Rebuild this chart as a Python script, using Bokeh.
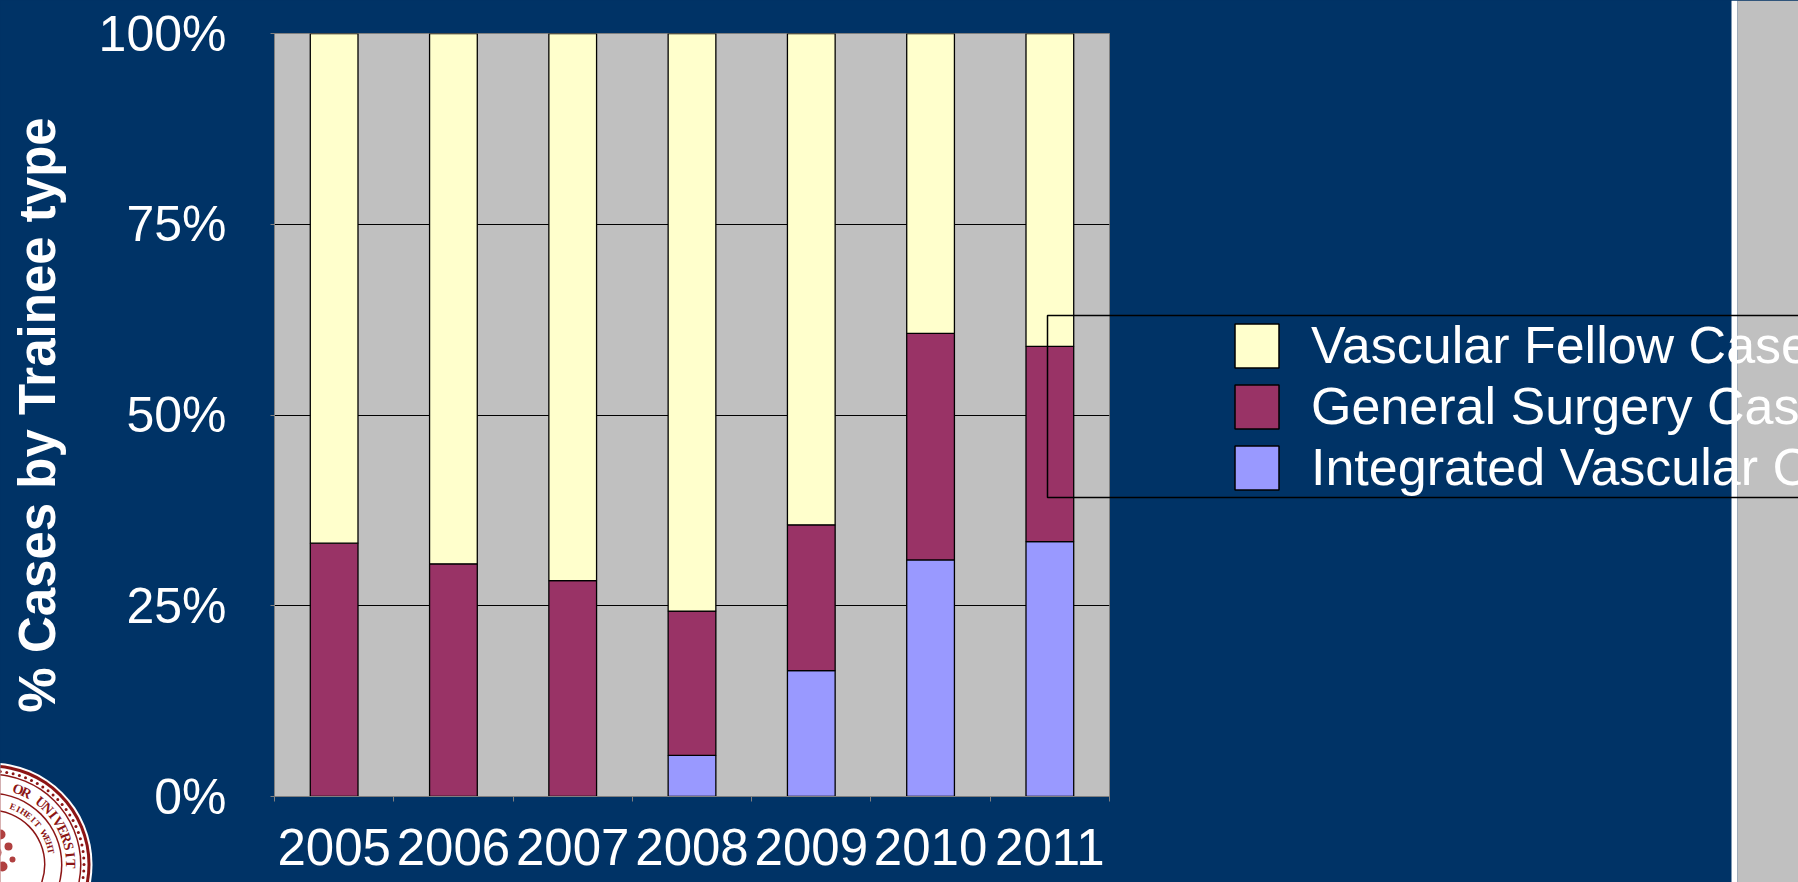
import math
from bokeh.plotting import figure
from bokeh.layouts import column
from bokeh.models import (ColumnDataSource, Range1d, FixedTicker, Legend, LegendItem,
                          GridBox, GlobalInlineStyleSheet)
from bokeh.core.properties import value
from bokeh.embed import file_html
from bokeh.resources import INLINE

# ---------------- data (percent of cases) ----------------
years = ["2005", "2006", "2007", "2008", "2009", "2010", "2011"]
integrated = [0.0, 0.0, 0.0, 5.4, 16.5, 31.0, 33.4]
general = [33.2, 30.5, 28.3, 18.9, 19.1, 29.7, 25.6]
fellow = [66.8, 69.5, 71.7, 75.7, 64.4, 39.3, 41.0]
series_keys = ["integrated", "general", "fellow"]
series_names = ["Integrated Vascular Cases", "General Surgery Cases", "Vascular Fellow Cases"]
series_colors = ["#9999FF", "#993366", "#FFFFCC"]
y_ticks = [0, 25, 50, 75, 100]
y_tick_labels = ["0%", "25%", "50%", "75%", "100%"]
y_title = "% Cases by Trainee type"

NAVY = "#003366"
GREY = "#C0C0C0"
AXIS_GREY = "#808080"
FONT = "Liberation Sans"
W, H = 1798, 882

# one slot per year: slot i spans [i, i+1] on the x scale
slot_centers = [i + 0.5 for i in range(len(years))]
slot_edges = list(range(len(years) + 1))

# ---------------- main chart ----------------
p = figure(x_range=Range1d(0, len(years)), y_range=Range1d(0, 100), width=W, height=H,
           output_backend="svg", toolbar_location=None,
           min_border_left=274, min_border_right=689, min_border_top=33, min_border_bottom=86)
p.background_fill_color = GREY
p.border_fill_color = NAVY
p.outline_line_color = AXIS_GREY
p.outline_line_width = 1

src = ColumnDataSource(dict(x=slot_centers, year=years, integrated=integrated, general=general, fellow=fellow))
rs = p.vbar_stack(series_keys, x="x", width=0.4, source=src,
                  fill_color=series_colors, line_color="black", line_width=1.3)

p.yaxis.ticker = FixedTicker(ticks=y_ticks)
p.yaxis.major_label_overrides = dict(zip(y_ticks, y_tick_labels))
p.yaxis.major_label_text_font = FONT
p.yaxis.major_label_text_font_size = "50px"
p.yaxis.major_label_text_color = "white"
p.yaxis.major_label_standoff = 44
p.yaxis.axis_line_color = AXIS_GREY
p.yaxis.major_tick_line_color = AXIS_GREY
p.yaxis.major_tick_out = 4
p.yaxis.major_tick_in = 0
p.yaxis.minor_tick_line_color = None
p.yaxis.axis_label = y_title
p.yaxis.axis_label_text_font = FONT
p.yaxis.axis_label_text_font_size = "51px"
p.yaxis.axis_label_text_font_style = "bold"
p.yaxis.axis_label_text_color = "white"
p.yaxis.axis_label_standoff = 30

p.ygrid.ticker = FixedTicker(ticks=y_ticks)
p.ygrid.grid_line_color = "black"
p.ygrid.grid_line_width = 1
p.xgrid.visible = False

xa = p.xaxis[0]
xa.ticker = FixedTicker(ticks=slot_centers, minor_ticks=slot_edges)
xa.major_label_overrides = {c: yv for c, yv in zip(slot_centers, years)}
xa.major_label_text_font = FONT
xa.major_label_text_font_size = "51px"
xa.major_label_text_color = "white"
xa.major_label_standoff = 27
xa.major_tick_line_color = None
xa.major_tick_out = 0
xa.major_tick_in = 0
xa.minor_tick_line_color = AXIS_GREY
xa.minor_tick_out = 5
xa.minor_tick_in = 0
xa.axis_line_color = AXIS_GREY

# ---------------- overlay in page pixels (legend, slide decorations) ----------------
q = figure(x_range=Range1d(0, W), y_range=Range1d(H, 0), width=W, height=H,
           output_backend="svg", toolbar_location=None,
           x_axis_location=None, y_axis_location=None,
           min_border_left=0, min_border_right=0, min_border_top=0, min_border_bottom=0)
q.background_fill_alpha = 0
q.border_fill_alpha = 0
q.outline_line_color = None
q.grid.visible = False

# right-hand slide panel
q.quad(left=[1731], right=[1737], top=[0], bottom=[H], fill_color="white", line_color=None)
q.quad(left=[1737], right=[W + 10], top=[0], bottom=[H], fill_color=GREY, line_color=None)

# legend frame
q.quad(left=[1047], right=[W + 20], top=[315], bottom=[497], fill_alpha=0,
       line_color="black", line_width=1.5)

# legend swatch renderers (same colours as the stacked series; no visible bar of their own)
nan = float("nan")
swatches = [q.vbar(x=[nan], top=[nan], width=0.0, fill_color=series_colors[i], line_color="black", line_width=1.5)
            for i in range(3)]
items = [LegendItem(label=series_names[i], renderers=[swatches[i]]) for i in (2, 1, 0)]
legend = Legend(items=items, location=(1229, 385), padding=0, margin=0, spacing=1,
                glyph_width=55, glyph_height=55, label_standoff=27,
                label_text_font=FONT, label_text_font_size="52px", label_text_color="white",
                border_line_alpha=0, background_fill_alpha=0)
q.add_layout(legend)

# seal in the lower-left corner
SEAL_RED = "#8C1515"
cx, cy = -10, 864
for r, c in [(102, "white"), (100, SEAL_RED), (97, "white")]:
    q.circle(x=[cx], y=[cy], radius=r, fill_color=c, line_color=None)
dot_ang = [math.radians(a) for a in range(-104, 30, 4)]
q.circle(x=[cx + 93.5 * math.cos(t) for t in dot_ang], y=[cy + 93.5 * math.sin(t) for t in dot_ang],
         radius=1.5, fill_color=SEAL_RED, line_color=None)
for r, c in [(91, SEAL_RED), (89.5, "white")]:
    q.circle(x=[cx], y=[cy], radius=r, fill_color=c, line_color=None)


def arc_text(text, r, start_deg, step_deg, size, pad):
    xs, ys, ts, angs = [], [], [], []
    for i, ch in enumerate(text):
        if ch == " ":
            continue
        a = start_deg + i * step_deg
        t = math.radians(a)
        x, y = cx + r * math.cos(t), cy + r * math.sin(t)
        if x < pad or y > H - pad:
            continue
        xs.append(x)
        ys.append(y)
        ts.append(ch)
        angs.append(-math.radians(a + 90))
    q.text(x=xs, y=ys, text=ts, angle=angs, text_align="center", text_baseline="middle",
           text_color=SEAL_RED, text_font=value("Liberation Serif"), text_font_style="bold",
           text_font_size=size)


arc_text("LELAND STANFORD JUNIOR UNIVERSITY", 80, -95 - 16 * 6.3, 6.3, "14px", 10)
for r, c in [(72, SEAL_RED), (70.5, "white")]:
    q.circle(x=[cx], y=[cy], radius=r, fill_color=c, line_color=None)
arc_text("DIE LUFT DER FREIHEIT WEHT", 62, -80 - 13 * 5.6, 5.6, "9px", 7)
for r, c in [(55, SEAL_RED), (53.5, "white")]:
    q.circle(x=[cx], y=[cy], radius=r, fill_color=c, line_color=None)
q.circle(x=[cx + 10, cx + 18, cx + 5, cx + 22, cx + 12], y=[cy - 30, cy - 18, cy - 12, cy - 5, cy + 2],
         radius=[5, 4, 6, 3, 5], fill_color="#B04040", line_color=None)

page = GridBox(children=[(p, 0, 0), (column(q), 0, 0)], width=W, height=H)
page.stylesheets = [GlobalInlineStyleSheet(css="html, body {margin:0; padding:0; overflow:hidden; background:#003366;}")]

open("out.html", "w").write(file_html(page, INLINE))
